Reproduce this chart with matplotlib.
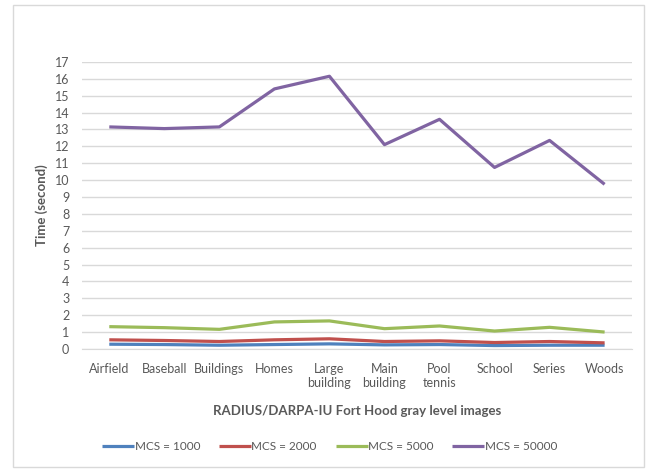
import matplotlib
matplotlib.use('Agg')
import matplotlib.pyplot as plt
from matplotlib.patches import Rectangle

# categories (Excel wraps the long ones on two lines)
images = ['Airfield', 'Baseball', 'Buildings', 'Homes', 'Large\nbuilding',
          'Main\nbuilding', 'Pool\ntennis', 'School', 'Series', 'Woods']

# time in seconds
mcs_1000 = [0.28, 0.26, 0.22, 0.26, 0.30, 0.24, 0.26, 0.20, 0.22, 0.22]
mcs_2000 = [0.54, 0.50, 0.44, 0.54, 0.60, 0.44, 0.48, 0.38, 0.44, 0.36]
mcs_5000 = [1.32, 1.26, 1.16, 1.60, 1.66, 1.20, 1.36, 1.06, 1.28, 1.00]
mcs_50000 = [13.15, 13.05, 13.15, 15.4, 16.15, 12.1, 13.6, 10.75, 12.35, 9.75]

series = [('MCS = 1000', mcs_1000, '#4F81BD'),
          ('MCS = 2000', mcs_2000, '#C0504D'),
          ('MCS = 5000', mcs_5000, '#9BBB59'),
          ('MCS = 50000', mcs_50000, '#8064A2')]

plt.rcParams['font.family'] = ['Lato', 'DejaVu Sans']
txt = '#595959'

fig = plt.figure(figsize=(6.49, 4.69), dpi=100)
ax = fig.add_axes([0.126, 0.256, 0.848, 0.612])

x = list(range(len(images)))
for name, vals, col in series:
    ax.plot(x, vals, color=col, lw=2.3, label=name, solid_capstyle='butt')

ax.set_xlim(-0.5, len(images) - 0.5)
ax.set_ylim(0, 17)
ax.set_yticks(range(0, 18))
ax.set_xticks(x)
ax.set_xticklabels(images, fontsize=9, color=txt, linespacing=1.2)
ax.tick_params(axis='y', labelsize=9, labelcolor=txt, length=0, pad=9)
ax.tick_params(axis='x', length=0, pad=10)
ax.grid(axis='y', color='#D9D9D9', lw=1)
ax.set_axisbelow(True)
for s in ax.spines.values():
    s.set_visible(False)
ax.spines['bottom'].set_visible(True)
ax.spines['bottom'].set_color('#D9D9D9')

ax.set_ylabel('Time (second)', fontsize=9.5, fontweight='bold', color=txt, labelpad=5)
ax.set_xlabel('RADIUS/DARPA-IU Fort Hood gray level images', fontsize=9.5,
              fontweight='bold', color=txt, labelpad=12)

fig.legend(loc='center', bbox_to_anchor=(0.508, 0.047), ncol=4, frameon=False,
           fontsize=8.5, labelcolor=txt, handlelength=2.7, handletextpad=0.05,
           columnspacing=1.6)

# chart border like the Excel chart area
fig.patches.append(Rectangle((0.02, 0.004), 0.972, 0.985, transform=fig.transFigure,
                             fill=False, edgecolor='#D9D9D9', lw=1))

fig.savefig('out.png', dpi=100)
